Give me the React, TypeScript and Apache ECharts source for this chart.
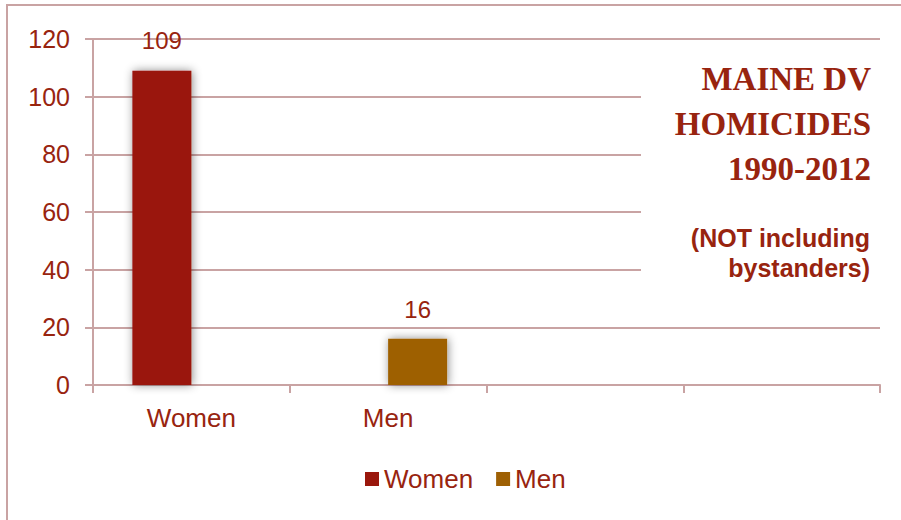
import React, { useEffect, useRef } from "react";
import * as echarts from "echarts";

const categories = ["Women", "Men", "", ""];
const womenValues: (number | string)[] = [109, "-", "-", "-"];
const menValues: (number | string)[] = ["-", 16, "-", "-"];
const yTicks = { min: 0, max: 120, interval: 20 };
const titleLines = ["MAINE DV", "HOMICIDES", "1990-2012"];
const subtitleLines = ["(NOT including", "bystanders)"];

const TEXT = "#98240F";
const GRID = "#C9A3A3";
const SANS = "'Liberation Sans', Arial, sans-serif";
const SERIF = "'Liberation Serif', 'Times New Roman', serif";

export default function App() {
  const ref = useRef<HTMLDivElement>(null);
  useEffect(() => {
    if (!ref.current) return;
    const chart = echarts.init(ref.current, undefined, { renderer: "svg" });
    const shadow = {
      shadowBlur: 10,
      shadowColor: "rgba(0,0,0,0.45)",
      shadowOffsetX: 1,
      shadowOffsetY: 0,
    };
    chart.setOption({
      animation: false,
      backgroundColor: "#ffffff",
      grid: { left: 93, right: 21, top: 39, bottom: 135, containLabel: false },
      legend: {
        left: 365,
        top: 466,
        padding: 0,
        itemWidth: 14,
        itemHeight: 14,
        itemGap: 23,
        icon: "rect",
        textStyle: { color: TEXT, fontSize: 26, fontFamily: SANS, padding: [2, 0, 0, 0] },
        data: ["Women", "Men"],
      },
      xAxis: {
        type: "category",
        data: categories,
        axisLine: { lineStyle: { color: GRID, width: 2 } },
        axisTick: { show: true, length: 8, lineStyle: { color: GRID, width: 2 } },
        axisLabel: { color: TEXT, fontSize: 26, fontFamily: SANS, margin: 20 },
      },
      yAxis: {
        type: "value",
        min: yTicks.min,
        max: yTicks.max,
        interval: yTicks.interval,
        axisLine: { show: true, lineStyle: { color: GRID, width: 2 } },
        axisTick: { show: true, length: 8, lineStyle: { color: GRID, width: 2 } },
        axisLabel: { color: TEXT, fontSize: 25, fontFamily: SANS, margin: 23 },
        splitLine: { lineStyle: { color: GRID, width: 2 } },
      },
      series: [
        {
          name: "Women",
          type: "bar",
          data: womenValues,
          barWidth: 59,
          barGap: "0%",
          itemStyle: { color: "#9A170C", ...shadow },
          label: {
            show: true,
            position: "top",
            distance: 18,
            color: TEXT,
            fontSize: 24,
            fontFamily: SANS,
          },
        },
        {
          name: "Men",
          type: "bar",
          data: menValues,
          barWidth: 59,
          barGap: "0%",
          itemStyle: { color: "#9E6004", ...shadow },
          label: {
            show: true,
            position: "top",
            distance: 17,
            color: TEXT,
            fontSize: 24,
            fontFamily: SANS,
          },
        },
      ],
      graphic: [
        {
          type: "rect",
          shape: { x: 7, y: 5, width: 1000, height: 1000 },
          style: { fill: "none", stroke: GRID, lineWidth: 2 },
          silent: true,
        },
        {
          type: "rect",
          z: 10,
          shape: { x: 641, y: 58, width: 245, height: 232 },
          style: { fill: "#ffffff" },
          silent: true,
        },
        ...titleLines.map((t, i) => ({
          type: "text",
          z: 11,
          right: 30,
          top: 62 + i * 45,
          style: {
            text: t,
            fill: TEXT,
            font: `bold 33px ${SERIF}`,
            textAlign: "right",
          },
        })),
        ...subtitleLines.map((t, i) => ({
          type: "text",
          z: 11,
          right: 31,
          top: 225 + i * 30,
          style: {
            text: t,
            fill: TEXT,
            font: `bold 25px ${SANS}`,
            textAlign: "right",
          },
        })),
      ],
    });
    return () => chart.dispose();
  }, []);
  return (
    <div
      ref={ref}
      style={{ position: "fixed", left: 0, top: 0, width: 901, height: 520 }}
    />
  );
}
